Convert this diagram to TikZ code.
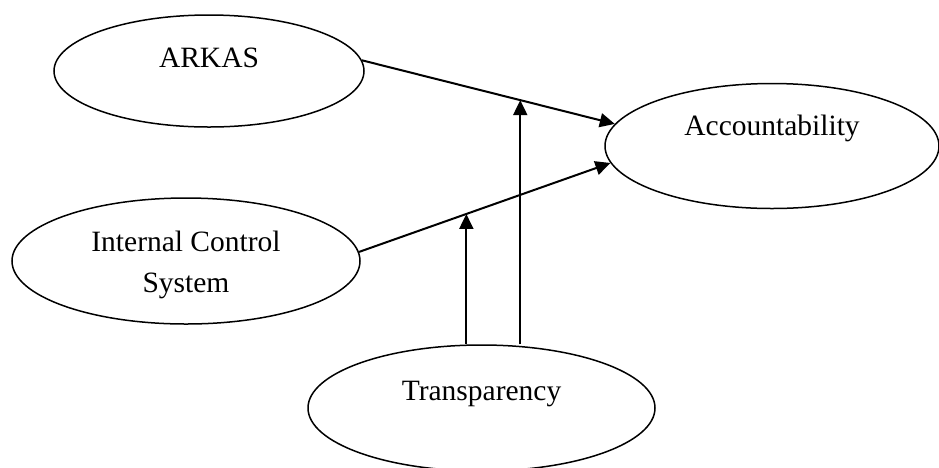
\documentclass[tikz,border=0pt]{standalone}
\usepackage{fontspec}
\setmainfont{Liberation Serif}
\usetikzlibrary{shapes.geometric,arrows.meta}
\tikzset{
  oval/.style={draw, ellipse, line width=1.5pt, inner sep=0pt, align=center,
    font=\fontsize{29.5}{41}\selectfont, text height=20pt},
  link/.style={line width=2pt, -{Triangle[length=15pt,width=14pt]}}
}
\begin{document}
\begin{tikzpicture}[x=1pt,y=-1pt]
\useasboundingbox (0,0) rectangle (939,467);
\clip (0,0) rectangle (939,467);
\node[oval, text depth=27pt, minimum width=310pt, minimum height=112pt] (arkas) at (209,71) {ARKAS};
\node[oval, text height=63pt, text depth=0pt, minimum width=348pt, minimum height=126pt] (ics) at (186,261) {Internal Control\\System};
\node[oval, text depth=42pt, minimum width=334pt, minimum height=125pt] (acc) at (772,146) {Accountability};
\node[oval, text depth=36pt, minimum width=347pt, minimum height=126pt] (trans) at (481.5,408) {Transparency};
\draw[link] (arkas.4) -- (acc.172) coordinate[pos=0.626] (m1);
\draw[link] (ics.3) -- (acc.186) coordinate[pos=0.427] (m2);
\draw[link] (m1 |- trans.north) -- (m1);
\draw[link] (m2 |- trans.north) -- (m2);
\end{tikzpicture}
\end{document}
